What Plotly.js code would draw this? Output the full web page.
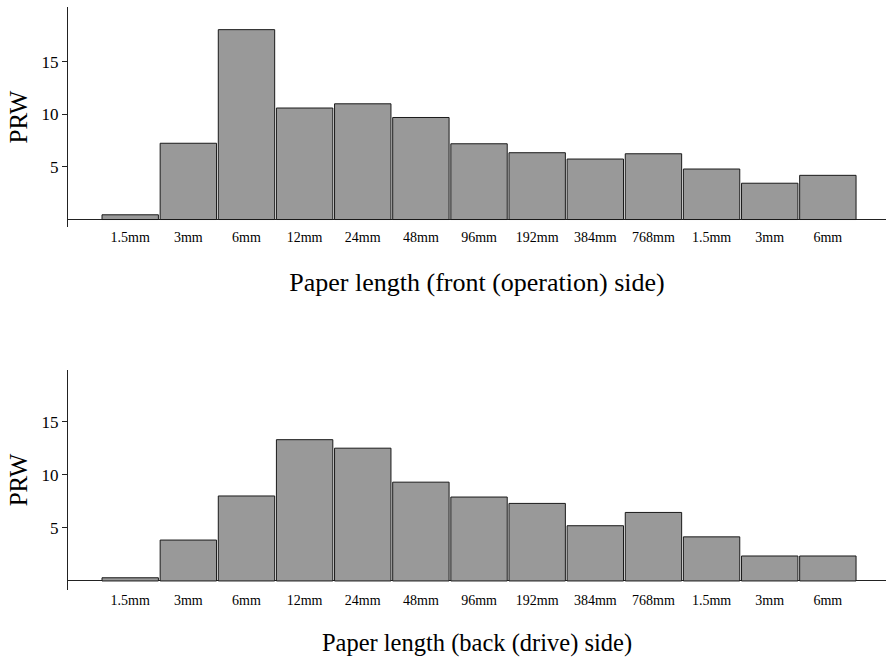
<!DOCTYPE html>
<html>
<head>
<meta charset="utf-8">
<script src="https://cdn.plot.ly/plotly-3.0.1.min.js"></script>
<style>html,body{margin:0;padding:0;background:#fff;}</style>
</head>
<body>
<div id="chart" style="width:886px;height:657px;"></div>
<script>
const tickLabels = ["1.5mm","3mm","6mm","12mm","24mm","48mm","96mm","192mm","384mm","768mm","1.5mm","3mm","6mm"];
const positions = [0,1,2,3,4,5,6,7,8,9,10,11,12];
const frontValues = [0.45, 7.25, 18.05, 10.6, 11.0, 9.7, 7.2, 6.35, 5.75, 6.25, 4.8, 3.45, 4.2];
const backValues = [0.3, 3.85, 8.0, 13.3, 12.5, 9.3, 7.9, 7.3, 5.2, 6.45, 4.15, 2.35, 2.35];
const yTicks = [5, 10, 15];

const serif = "Liberation Serif, Times New Roman, serif";
const barStyle = {color: "#999999", line: {color: "#1a1a1a", width: 1}};

const traces = [
  {type: "bar", x: positions, y: frontValues, xaxis: "x", yaxis: "y", marker: barStyle, hoverinfo: "skip"},
  {type: "bar", x: positions, y: backValues, xaxis: "x2", yaxis: "y2", marker: barStyle, hoverinfo: "skip"}
];

function xAxis(title, anchor, size, standoff) {
  return {
    anchor: anchor, domain: [0, 1], range: [-1.07, 13.0],
    tickmode: "array", tickvals: positions, ticktext: tickLabels,
    showline: false, showgrid: false, zeroline: false, ticks: "",
    tickfont: {family: serif, size: 14, color: "#000"},
    title: {text: title, font: {family: serif, size: size, color: "#000"}, standoff: standoff},
    fixedrange: true
  };
}
function yAxis(domain, range, anchor) {
  return {
    anchor: anchor, domain: domain, range: range,
    tickmode: "array", tickvals: yTicks,
    showline: true, linecolor: "#222", linewidth: 1,
    ticks: "outside", ticklen: 5, tickcolor: "#222",
    showgrid: false, zeroline: true, zerolinecolor: "#222", zerolinewidth: 1,
    tickfont: {family: serif, size: 17, color: "#000"},
    title: {text: "PRW", font: {family: serif, size: 25, color: "#000"}, standoff: 6},
    fixedrange: true
  };
}

const layout = {
  width: 886, height: 657,
  margin: {l: 68, r: 0, t: 0, b: 0},
  paper_bgcolor: "#fff", plot_bgcolor: "#fff",
  showlegend: false, bargap: 0.03,
  xaxis: xAxis("Paper length (front (operation) side)", "y", 26, 28),
  yaxis: yAxis([0.6545, 0.9893], [-0.71, 20.2], "x"),
  xaxis2: xAxis("Paper length (back (drive) side)", "y2", 24.5, 28),
  yaxis2: yAxis([0.102, 0.437], [-0.85, 19.87], "x2")
};

Plotly.newPlot("chart", traces, layout, {displayModeBar: false, staticPlot: true});
</script>
</body>
</html>
